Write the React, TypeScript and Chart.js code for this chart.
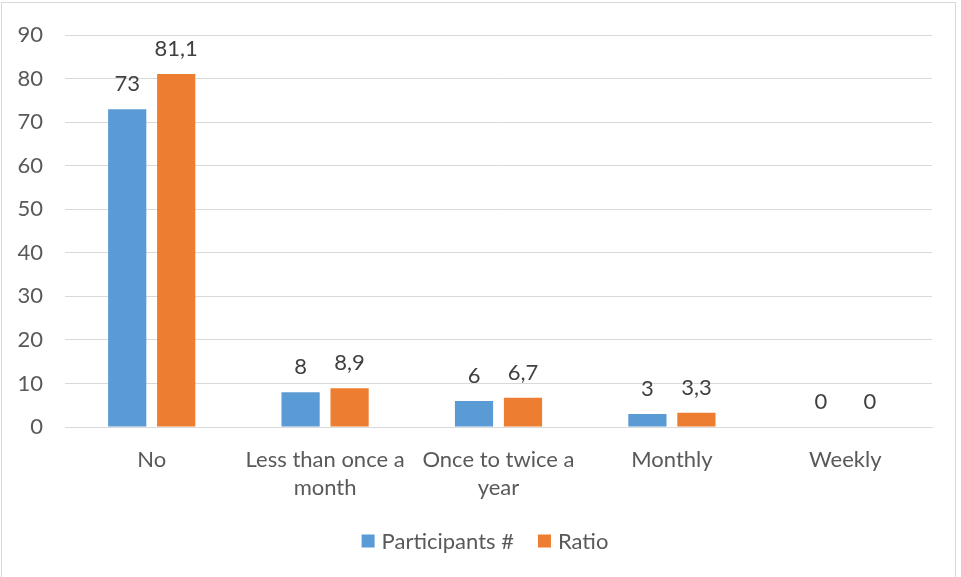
import React, { useEffect, useRef } from "react";
import { Chart, registerables } from "chart.js";

Chart.register(...registerables);

const categories: (string | string[])[] = [
  "No",
  ["Less than once a", "month"],
  ["Once to twice a", "year"],
  "Monthly",
  "Weekly",
];
const participants = [73, 8, 6, 3, 0];
const ratio = [81.1, 8.9, 6.7, 3.3, 0];
const seriesNames = ["Participants #", "Ratio"];
const yTicksMax = 90;
const yTicksStep = 10;

const FONT = "Lato, 'Open Sans', sans-serif";
const TEXT = "#595959";
const GRID = "#D9D9D9";
const COLORS = ["#5B9BD5", "#ED7D31"];
const FS = 22;

const frame = {
  id: "frame",
  beforeDraw(chart: any) {
    const ctx = chart.ctx;
    ctx.save();
    ctx.fillStyle = "#ffffff";
    ctx.fillRect(0, 0, chart.width, chart.height);
    ctx.strokeStyle = GRID;
    ctx.lineWidth = 1;
    ctx.strokeRect(1.5, 2.5, 954, chart.height + 5);
    ctx.restore();
  },
};

const dataLabels = {
  id: "dataLabels",
  afterDatasetsDraw(chart: any) {
    const ctx = chart.ctx;
    ctx.save();
    ctx.font = `${FS}px ${FONT}`;
    ctx.fillStyle = "#404040";
    ctx.textAlign = "center";
    ctx.textBaseline = "alphabetic";
    chart.data.datasets.forEach((ds: any, i: number) => {
      const meta = chart.getDatasetMeta(i);
      meta.data.forEach((bar: any, j: number) => {
        const v = ds.data[j];
        const txt = String(v).replace(".", ",");
        ctx.fillText(txt, bar.x, bar.y - 18);
      });
    });
    ctx.restore();
  },
};

const legendPlugin = {
  id: "customLegend",
  afterDraw(chart: any) {
    const ctx = chart.ctx;
    ctx.save();
    ctx.font = `${FS}px ${FONT}`;
    ctx.textBaseline = "middle";
    ctx.textAlign = "left";
    const box = 13;
    const gapBoxText = 7;
    const gapItems = 24;
    const items = chart.data.datasets.map((ds: any) => ({
      label: ds.label,
      color: ds.backgroundColor,
      w: box + gapBoxText + ctx.measureText(ds.label).width,
    }));
    const total =
      items.reduce((a: number, it: any) => a + it.w, 0) + gapItems * (items.length - 1);
    let x = 485 - total / 2;
    const y = 541;
    items.forEach((it: any) => {
      ctx.fillStyle = it.color;
      ctx.fillRect(x, y - box / 2, box, box);
      ctx.fillStyle = TEXT;
      ctx.fillText(it.label, x + box + gapBoxText, y + 1);
      x += it.w + gapItems;
    });
    ctx.restore();
  },
};

export default function App() {
  const ref = useRef<HTMLCanvasElement | null>(null);
  useEffect(() => {
    if (!ref.current) return;
    const chart = new Chart(ref.current, {
      type: "bar",
      data: {
        labels: categories,
        datasets: [
          {
            label: seriesNames[0],
            data: participants,
            backgroundColor: COLORS[0],
            barPercentage: 0.78,
            categoryPercentage: 0.565,
          },
          {
            label: seriesNames[1],
            data: ratio,
            backgroundColor: COLORS[1],
            barPercentage: 0.78,
            categoryPercentage: 0.565,
          },
        ],
      },
      options: {
        responsive: false,
        animation: false,
        layout: { padding: { top: 32, right: 29, left: 0, bottom: 0 } },
        plugins: {
          legend: { display: false },
          tooltip: { enabled: false },
        },
        scales: {
          x: {
            grid: { display: false, drawTicks: false },
            border: { display: true, color: GRID, width: 1 },
            ticks: {
              color: TEXT,
              font: { family: FONT, size: FS, lineHeight: 1.27 },
              padding: 19,
              maxRotation: 0,
              autoSkip: false,
            },
            afterFit(scale: any) {
              scale.height = 150;
            },
          },
          y: {
            min: 0,
            max: yTicksMax,
            ticks: {
              stepSize: yTicksStep,
              color: TEXT,
              font: { family: FONT, size: FS },
              padding: 22,
            },
            grid: { color: GRID, lineWidth: 1, drawTicks: false },
            border: { display: false },
            afterFit(scale: any) {
              scale.width = 65;
            },
          },
        },
      },
      plugins: [frame, dataLabels, legendPlugin],
    });
    return () => chart.destroy();
  }, []);
  return (
    <div style={{ position: "absolute", left: 0, top: 0, width: 961, height: 577 }}>
      <canvas ref={ref} width={961} height={577} />
    </div>
  );
}
